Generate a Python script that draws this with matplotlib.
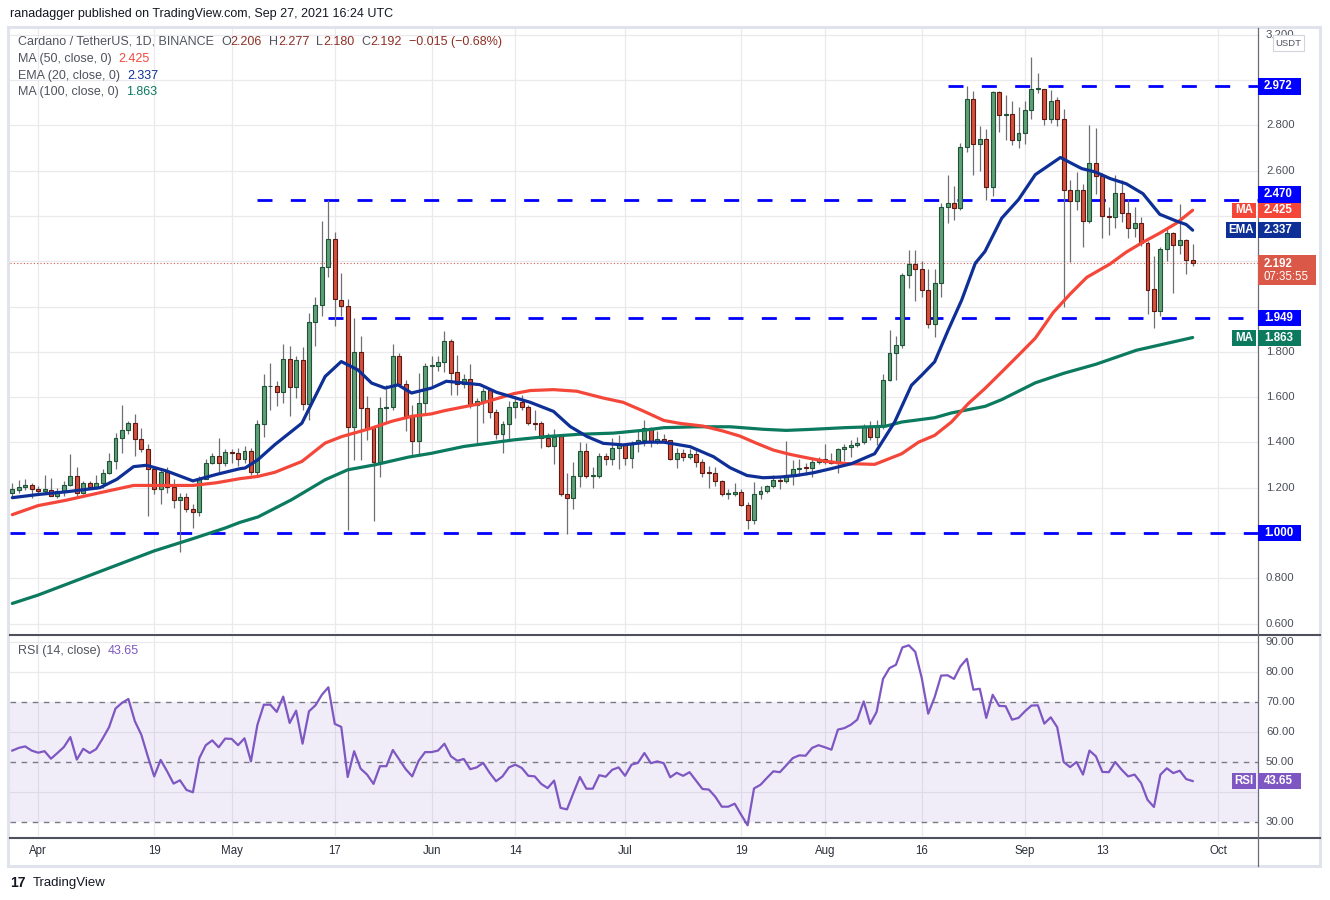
import numpy as np
import pandas as pd
import matplotlib
matplotlib.use("Agg")
import matplotlib.pyplot as plt
from matplotlib.patches import Rectangle

plt.rcParams['font.family'] = ['Liberation Sans', 'DejaVu Sans']

# ---------------- data ----------------
dates = pd.date_range("2021-03-28", periods=184, freq="D")

opens = [1.178,1.190,1.204,1.213,1.196,1.187,1.190,1.164,1.185,1.213,
         1.252,1.178,1.222,1.204,1.222,1.267,1.320,1.418,1.453,1.484,
         1.413,1.373,1.281,1.196,1.271,1.204,1.145,1.160,1.107,1.092,
         1.240,1.311,1.342,1.311,1.356,1.353,1.326,1.362,1.269,1.481,
         1.647,1.651,1.622,1.768,1.644,1.763,1.569,1.931,2.006,2.174,
         2.297,2.028,2.001,1.468,1.799,1.551,1.463,1.312,1.551,1.556,
         1.781,1.657,1.516,1.406,1.574,1.737,1.737,1.754,1.849,1.711,
         1.658,1.680,1.564,1.584,1.632,1.534,1.436,1.481,1.556,1.578,
         1.556,1.485,1.485,1.419,1.382,1.429,1.173,1.155,1.251,1.362,
         1.251,1.252,1.340,1.325,1.374,1.389,1.332,1.399,1.409,1.465,
         1.406,1.416,1.409,1.328,1.354,1.337,1.350,1.314,1.266,1.266,
         1.229,1.173,1.173,1.182,1.123,1.056,1.173,1.186,1.208,1.235,
         1.230,1.257,1.283,1.288,1.288,1.314,1.325,1.320,1.310,1.370,
         1.378,1.387,1.401,1.468,1.424,1.472,1.677,1.793,1.832,2.137,
         2.187,2.165,2.073,1.921,2.103,2.439,2.457,2.435,2.705,2.917,
         2.718,2.740,2.528,2.948,2.846,2.851,2.736,2.767,2.867,2.960,
         2.962,2.826,2.910,2.830,2.513,2.467,2.516,2.379,2.635,2.578,
         2.401,2.396,2.503,2.414,2.348,2.370,2.281,2.077,1.980,2.255,
         2.325,2.272,2.294,2.206]
highs = [1.222,1.233,1.240,1.219,1.207,1.255,1.244,1.200,1.230,1.348,
         1.293,1.230,1.230,1.255,1.281,1.353,1.441,1.566,1.496,1.526,
         1.462,1.393,1.293,1.289,1.293,1.237,1.178,1.178,1.126,1.252,
         1.326,1.353,1.418,1.373,1.370,1.375,1.382,1.375,1.500,1.703,
         1.750,1.669,1.835,1.826,1.782,1.821,1.971,2.044,2.378,2.470,
         2.331,2.147,2.034,1.949,1.871,1.606,1.471,1.600,1.654,1.835,
         1.794,1.676,1.566,1.706,1.750,1.782,1.782,1.894,1.858,1.784,
         1.700,1.744,1.596,1.640,1.640,1.547,1.493,1.584,1.607,1.611,
         1.566,1.541,1.493,1.441,1.458,1.432,1.263,1.315,1.401,1.396,
         1.293,1.352,1.352,1.419,1.433,1.396,1.406,1.450,1.499,1.470,
         1.450,1.435,1.412,1.376,1.369,1.369,1.376,1.325,1.295,1.292,
         1.232,1.195,1.221,1.195,1.137,1.226,1.207,1.214,1.255,1.251,
         1.406,1.322,1.325,1.310,1.332,1.336,1.391,1.354,1.376,1.394,
         1.409,1.424,1.483,1.494,1.497,1.701,1.896,1.869,2.147,2.250,
         2.250,2.199,2.165,2.165,2.457,2.582,2.531,2.723,2.973,2.951,
         2.799,2.785,2.951,2.951,2.936,2.907,2.882,2.907,3.103,3.032,
         2.962,2.956,2.926,2.870,2.560,2.594,2.542,2.801,2.786,2.590,
         2.439,2.579,2.557,2.476,2.439,2.395,2.291,2.225,2.262,2.343,
         2.328,2.454,2.299,2.277]
lows = [1.163,1.178,1.190,1.156,1.170,1.170,1.163,1.156,1.163,1.207,
        1.156,1.170,1.193,1.193,1.200,1.259,1.281,1.353,1.437,1.338,
        1.359,1.074,1.170,1.126,1.178,1.111,0.918,1.092,1.022,1.077,
        1.237,1.304,1.270,1.296,1.311,1.294,1.309,1.257,1.257,1.426,
        1.544,1.559,1.574,1.515,1.596,1.544,1.500,1.824,1.959,2.129,
        1.915,1.956,1.012,1.321,1.321,1.412,1.051,1.247,1.485,1.541,
        1.647,1.449,1.338,1.346,1.522,1.647,1.716,1.713,1.611,1.611,
        1.640,1.552,1.396,1.485,1.507,1.416,1.355,1.404,1.507,1.544,
        1.478,1.456,1.374,1.379,1.305,1.164,0.997,1.105,1.201,1.241,
        1.197,1.241,1.300,1.300,1.281,1.300,1.288,1.357,1.384,1.381,
        1.391,1.399,1.322,1.288,1.317,1.325,1.292,1.248,1.199,1.207,
        1.165,1.148,1.162,1.118,1.019,1.041,1.148,1.177,1.200,1.195,
        1.221,1.214,1.251,1.258,1.247,1.303,1.303,1.303,1.266,1.320,
        1.335,1.381,1.394,1.409,1.387,1.461,1.672,1.677,1.819,2.080,
        2.026,2.041,1.903,1.866,2.044,2.368,2.380,2.427,2.681,2.582,
        2.597,2.472,2.489,2.770,2.737,2.715,2.700,2.718,2.830,2.941,
        2.800,2.808,2.796,1.996,2.196,2.427,2.262,2.368,2.498,2.303,
        2.314,2.348,2.373,2.303,2.306,2.269,1.967,1.905,1.959,2.203,
        2.060,2.232,2.144,2.180]
closes = [1.193,1.204,1.213,1.196,1.187,1.193,1.164,1.185,1.213,1.252,
          1.178,1.222,1.204,1.222,1.267,1.320,1.418,1.453,1.484,1.413,
          1.373,1.281,1.196,1.271,1.204,1.145,1.160,1.107,1.092,1.240,
          1.311,1.342,1.311,1.356,1.353,1.326,1.362,1.269,1.481,1.647,
          1.651,1.622,1.768,1.644,1.763,1.569,1.931,2.006,2.174,2.297,
          2.032,2.001,1.468,1.799,1.551,1.463,1.312,1.551,1.556,1.781,
          1.657,1.516,1.406,1.574,1.737,1.738,1.754,1.849,1.707,1.658,
          1.680,1.564,1.584,1.629,1.534,1.436,1.481,1.556,1.578,1.556,
          1.485,1.483,1.419,1.382,1.426,1.173,1.155,1.251,1.362,1.251,
          1.252,1.340,1.325,1.374,1.389,1.330,1.399,1.409,1.465,1.406,
          1.416,1.406,1.328,1.354,1.337,1.350,1.314,1.266,1.264,1.229,
          1.173,1.175,1.182,1.123,1.056,1.173,1.186,1.208,1.235,1.230,
          1.257,1.283,1.288,1.287,1.314,1.325,1.314,1.310,1.370,1.378,
          1.387,1.399,1.468,1.424,1.472,1.677,1.793,1.832,2.137,2.187,
          2.165,2.073,1.921,2.103,2.439,2.457,2.435,2.705,2.917,2.718,
          2.740,2.528,2.948,2.846,2.851,2.736,2.767,2.867,2.960,2.962,
          2.826,2.907,2.830,2.513,2.467,2.516,2.379,2.635,2.578,2.401,
          2.396,2.503,2.414,2.348,2.370,2.281,2.073,1.980,2.255,2.325,
          2.272,2.294,2.206,2.192]

# moving averages (day index, value)
ema20_day = [0,4,8.4,13.6,16.2,18.8,20.8,23.9,28,31.7,35.3,36.1,38.1,40.7,44.9,48.5,51,53.6,55.7,57.8,
             59.8,61.9,65,67.3,72.5,75.1,80.3,83.9,86.5,89.1,91.6,94.7,98.4,101,105.1,108.7,111.3,113.9,
             116.4,119,121.6,124.2,126.8,130.1,133.7,136.8,139.4,141,143,145.1,147.2,149.3,150.8,153.4,
             156,158.6,162.5,164.3,165.8,167.9,170.2,172.7,175.3,177.9,180.5,182,183]
ema20_val = [1.156,1.170,1.182,1.200,1.237,1.293,1.299,1.274,1.230,1.259,1.284,1.287,1.324,1.390,1.485,1.691,1.757,1.720,1.662,1.640,
             1.654,1.618,1.640,1.670,1.655,1.621,1.577,1.537,1.470,1.426,1.396,1.389,1.401,1.401,1.381,1.337,1.288,1.254,
             1.244,1.247,1.254,1.266,1.283,1.306,1.350,1.490,1.652,1.697,1.756,1.896,2.029,2.191,2.243,2.390,
             2.472,2.582,2.658,2.631,2.609,2.594,2.565,2.542,2.498,2.407,2.377,2.362,2.337]
ma50_day = [0,4,8.4,13.6,18.8,23.9,28,31.7,35.3,38.1,40.7,44.9,48.5,51.1,55.7,58.8,61.9,65,67,72.5,
            77.7,80.3,83.9,87.5,91.6,94.7,97.8,101,103.5,107.1,110.2,112.8,115.4,118,120.6,123.2,126,129,
            133.7,137.9,140.5,143,145.6,148.2,150.8,153.4,156,158.6,161.4,164,166.6,170.2,172.7,175.3,177.9,180.5,183]
ma50_val = [1.081,1.121,1.145,1.178,1.210,1.210,1.210,1.222,1.240,1.250,1.268,1.316,1.397,1.426,1.463,1.493,1.515,1.526,1.540,1.571,
            1.615,1.629,1.633,1.626,1.596,1.577,1.539,1.497,1.484,1.472,1.450,1.428,1.396,1.366,1.347,1.332,1.317,1.307,
            1.303,1.350,1.401,1.431,1.490,1.571,1.638,1.711,1.785,1.860,1.974,2.055,2.129,2.188,2.240,2.284,2.324,2.368,2.425]
ma100_day = [0,4,13.6,22,28,33,35.3,38.1,43.3,48.5,52,56.2,61.4,65,70,77.7,82.9,88,93.2,98,101,106,111.3,
             116.4,120,124.2,129,135.3,137.9,143,145.6,150.8,153.4,158.6,163,168,174.3,183]
ma100_val = [0.689,0.726,0.830,0.921,0.975,1.022,1.047,1.071,1.147,1.235,1.279,1.301,1.335,1.352,1.382,1.411,1.426,1.436,1.441,1.454,1.465,1.469,1.469,
             1.458,1.453,1.458,1.465,1.471,1.490,1.509,1.530,1.559,1.589,1.663,1.705,1.745,1.807,1.863]

rsi = [53.8,54.7,55.2,53.8,53.1,53.6,51.1,53.0,55.0,58.3,
       50.8,54.4,53.0,54.3,57.8,61.6,67.8,69.7,71.0,63.6,
       59.1,51.9,45.2,50.7,46.9,42.8,43.9,40.7,39.9,51.3,
       55.6,57.2,54.9,57.8,57.7,55.6,57.9,50.2,62.4,69.1,
       69.1,66.7,71.8,63.0,67.1,56.1,66.9,68.9,72.4,74.9,
       62.7,61.7,45.0,53.6,47.8,45.8,42.7,48.6,48.6,54.0,
       50.8,47.6,45.2,50.4,53.3,53.3,53.8,56.1,51.9,50.4,
       51.0,47.6,48.2,49.7,46.4,43.6,45.2,48.2,49.1,48.0,
       45.4,45.2,42.7,41.3,43.8,34.7,34.2,39.7,45.0,41.1,
       41.1,45.6,45.1,47.4,48.2,45.4,49.1,49.7,53.0,49.6,
       50.2,49.6,44.9,46.4,45.4,46.6,43.8,41.0,40.8,38.4,
       35.1,35.1,36.1,32.4,28.9,41.2,42.4,44.7,46.9,46.6,
       48.9,51.3,52.2,52.1,54.7,55.6,54.9,54.1,60.8,61.3,
       62.4,64.1,70.2,62.7,66.7,77.7,81.3,82.4,88.2,88.9,
       86.7,78.0,66.1,71.6,78.8,78.9,77.7,81.9,84.4,74.1,
       74.4,64.7,72.4,68.7,68.6,64.1,64.7,66.9,68.8,68.9,
       62.8,64.9,61.6,50.0,48.3,50.0,45.8,53.8,51.9,46.7,
       46.6,50.0,47.4,45.2,45.8,43.0,37.4,35.0,45.8,47.9,
       46.3,47.1,44.3,43.65]

levels = [2.972, 2.470, 1.949, 1.000]
level_from = ["2021-08-20", "2021-05-05", "2021-05-16", "2021-03-27"]

tick_dates = ["2021-04-01","2021-04-19","2021-05-01","2021-05-17","2021-06-01","2021-06-14",
              "2021-07-01","2021-07-19","2021-08-01","2021-08-16","2021-09-01","2021-09-13","2021-10-01"]
tick_labels = ["Apr","19","May","17","Jun","14","Jul","19","Aug","16","Sep","13","Oct"]
price_ticks = [0.6,0.8,1.0,1.2,1.4,1.6,1.8,2.0,2.2,2.4,2.6,2.8,3.0,3.2]
rsi_ticks = [30,40,50,60,70,80,90]

# ---------------- figure ----------------
W, H = 1330, 900
fig = plt.figure(figsize=(W/100, H/100), dpi=100)
fig.patch.set_facecolor('white')
def fx(px): return px / W
def fy(py): return 1 - py / H

LX, RX = 10, 1258
ax = fig.add_axes([fx(LX), fy(633), fx(RX)-fx(LX), fy(29)-fy(633)])
axr = fig.add_axes([fx(LX), fy(836), fx(RX)-fx(LX), fy(636)-fy(836)])
x_lo, x_hi = (LX-12.3)/6.45, (RX-12.3)/6.45
ax.set_xlim(x_lo, x_hi); ax.set_ylim(0.5585, 3.2252)
axr.set_xlim(x_lo, x_hi); axr.set_ylim(25.33, 92)
for a in (ax, axr):
    a.axis('off')

day = np.arange(len(dates))
tick_idx = [(pd.Timestamp(d) - dates[0]).days for d in tick_dates]

GRID = '#e9e9ee'
for a in (ax, axr):
    for t in tick_idx:
        a.axvline(t, color=GRID, lw=0.9, zorder=0)
for p in price_ticks:
    ax.axhline(p, color=GRID, lw=0.9, zorder=0)
for r in [40, 60, 80, 90]:
    axr.axhline(r, color=GRID, lw=0.9, zorder=0)

# candles
O = np.array(opens); Hh = np.array(highs); Lw = np.array(lows); C = np.array(closes)
up = C >= O
ax.vlines(day, Lw, Hh, color='#707074', lw=0.9, zorder=3)
bb = np.minimum(O, C); bh = np.maximum(np.abs(C - O), 0.004)
ax.bar(day[up], bh[up], bottom=bb[up], width=0.62, color='#5f9f77', edgecolor='#1f5236', linewidth=0.8, zorder=4)
ax.bar(day[~up], bh[~up], bottom=bb[~up], width=0.62, color='#d5503d', edgecolor='#5e1a12', linewidth=0.8, zorder=4)

# horizontal levels
for lv, d0 in zip(levels, level_from):
    s = max((pd.Timestamp(d0) - dates[0]).days, x_lo)
    ax.plot([s, x_hi], [lv, lv], color='#0000ff', lw=2.0, dashes=(5.4, 6.6), dash_capstyle='butt', zorder=2)

# current price dotted line
ax.axhline(closes[-1], color='#d9574a', lw=0.8, ls=(0, (1, 2)), zorder=2)

# moving averages
ax.plot(ma100_day, ma100_val, color='#0b7a5f', lw=2.3, zorder=5, solid_capstyle='round')
ax.plot(ma50_day, ma50_val, color='#f4473a', lw=2.3, zorder=5, solid_capstyle='round')
ax.plot(ema20_day, ema20_val, color='#0e2f96', lw=2.3, zorder=5, solid_capstyle='round')

# RSI panel
axr.axhspan(30, 70, color='#7e57c2', alpha=0.1, lw=0, zorder=0)
for r in [30, 50, 70]:
    axr.axhline(r, color='#787b86', lw=1.0, dashes=(4, 4), zorder=1)
axr.plot(day, rsi, color='#7e57c2', lw=1.6, zorder=3)

# ---------- frame ----------
def fline(x0, y0, x1, y1, color, lw, z=8):
    fig.add_artist(plt.Line2D([fx(x0), fx(x1)], [fy(y0), fy(y1)], transform=fig.transFigure,
                              color=color, lw=lw, zorder=z))
fig.add_artist(Rectangle((fx(8), fy(866)), fx(1320)-fx(8), fy(27)-fy(866), transform=fig.transFigure,
                         fill=False, ec='#e0e3eb', lw=2.2, zorder=8))
fline(10, 634.5, 1320, 634.5, '#4e515c', 1.5)
fline(10, 837.5, 1320, 837.5, '#4e515c', 1.5)
fline(1258, 28, 1258, 866, '#6a6d78', 0.9)

def py_of(a, v):
    return H - a.transData.transform((0, v))[1]
def px_of(a, xv):
    return a.transData.transform((xv, 0))[0]

# label boxes on the right scale (centre y, half-height)
yc_price = py_of(ax, closes[-1])
covered = [(py_of(ax, 2.972), 9), (py_of(ax, 2.470) - 6, 9), (py_of(ax, 2.425), 8),
           (py_of(ax, 2.337), 8), (yc_price + 7, 15), (py_of(ax, 1.949), 8),
           (py_of(ax, 1.863), 8), (py_of(ax, 1.000), 8)]

AXC = '#4a4e59'
for p in price_ticks:
    y = py_of(ax, p)
    if not (27 < y < 633):
        continue
    if any(abs(y - c) < hh + 4 for c, hh in covered):
        continue
    fig.text(fx(1266), fy(y), f"{p:.3f}", color=AXC, fontsize=8.2, va='center', ha='left', zorder=3)
yr = py_of(axr, rsi[-1])
for r in rsi_ticks:
    y = py_of(axr, r)
    if abs(y - yr) < 12:
        continue
    fig.text(fx(1266), fy(y), f"{r:.2f}", color=AXC, fontsize=8.2, va='center', ha='left', zorder=3)
for t, lab in zip(tick_idx, tick_labels):
    fig.text(fx(px_of(ax, t)), fy(851), lab, color='#2a2e39', fontsize=8.3, va='center', ha='center')

def box(x0, x1, yc, hgt, color, text, ha='left', z=9):
    fig.add_artist(Rectangle((fx(x0), fy(yc + hgt/2)), fx(x1)-fx(x0), fy(yc - hgt/2)-fy(yc + hgt/2),
                             transform=fig.transFigure, fc=color, ec='none', zorder=z))
    if ha == 'left':
        fig.text(fx(x0 + 6), fy(yc), text, color='white', fontsize=8.3,
                 fontweight='bold', va='center', ha='left', zorder=z+1)
    else:
        fig.text(fx((x0 + x1)/2), fy(yc), text, color='white', fontsize=8.3,
                 fontweight='bold', va='center', ha='center', zorder=z+1)

# USDT box
fig.add_artist(Rectangle((fx(1273), fy(51)), fx(1304)-fx(1273), fy(35)-fy(51), transform=fig.transFigure,
                         fc='white', ec='#d1d4dc', lw=0.8, zorder=9))
fig.text(fx(1288.5), fy(43), "USDT", color='#50535e', fontsize=6.8, ha='center', va='center', zorder=10)

# level labels
box(1258, 1301, py_of(ax, 2.972), 17, '#0000ff', "2.972")
box(1258, 1301, py_of(ax, 2.470) - 6, 17, '#0000ff', "2.470")
box(1258, 1301, py_of(ax, 1.949), 16, '#0000ff', "1.949")
box(1258, 1301, py_of(ax, 1.000), 16, '#0000ff', "1.000")
# indicator labels
box(1258, 1301, py_of(ax, 2.425), 15, '#f4473a', "2.425")
box(1232, 1256, py_of(ax, 2.425), 15, '#f4473a', "MA", ha='center')
box(1258, 1301, py_of(ax, 2.337), 16, '#0e2f96', "2.337")
box(1226, 1256, py_of(ax, 2.337), 16, '#0e2f96', "EMA", ha='center')
box(1258, 1301, py_of(ax, 1.863), 16, '#0b7a5f', "1.863")
box(1232, 1256, py_of(ax, 1.863), 16, '#0b7a5f', "MA", ha='center')
# current price label (two lines)
fig.add_artist(Rectangle((fx(1258), fy(yc_price + 22)), fx(1316)-fx(1258), fy(yc_price - 8)-fy(yc_price + 22),
                         transform=fig.transFigure, fc='#da5848', ec='none', zorder=9))
fig.text(fx(1264), fy(yc_price + 1), "2.192", color='white', fontsize=8.3, fontweight='bold', va='center', zorder=10)
fig.text(fx(1264), fy(yc_price + 14), "07:35:55", color='white', fontsize=8.3, va='center', zorder=10)
# RSI labels
box(1258, 1301, yr, 16, '#7e57c2', "43.65")
box(1232, 1256, yr, 16, '#7e57c2', "RSI", ha='center')

# ---------- texts ----------
renderer = fig.canvas.get_renderer()
def chain(x, y, parts, size=9):
    for s, c, gap in parts:
        t = fig.text(fx(x), fy(y), s, color=c, fontsize=size, va='center', ha='left', zorder=10)
        x += t.get_window_extent(renderer).width + gap

fig.text(fx(10), fy(14), "ranadagger published on TradingView.com, Sep 27, 2021 16:24 UTC",
         color='#131722', fontsize=9, va='center', ha='left')
G = '#50535e'; V = '#8e2f25'
chain(18, 42, [("Cardano / TetherUS, 1D, BINANCE", G, 7), ("O", G, 0), ("2.206", V, 7),
               ("H", G, 0), ("2.277", V, 7), ("L", G, 0), ("2.180", V, 7), ("C", G, 0),
               ("2.192", V, 7), ("\u22120.015 (\u22120.68%)", V, 0)])
chain(18, 59, [("MA (50, close, 0)", G, 7), ("2.425", '#f4473a', 0)])
chain(18, 76, [("EMA (20, close, 0)", G, 7), ("2.337", '#0e2f96', 0)])
chain(18, 92, [("MA (100, close, 0)", G, 7), ("1.863", '#0b7a5f', 0)])
chain(18, 651, [("RSI (14, close)", G, 7), ("43.65", '#7e57c2', 0)])

fig.text(fx(10), fy(883), "17", color='#131722', fontsize=10, fontweight='bold', va='center', ha='left')
fig.text(fx(33), fy(883), "TradingView", color='#131722', fontsize=9.5, va='center', ha='left')

fig.savefig("out.png", dpi=100)
